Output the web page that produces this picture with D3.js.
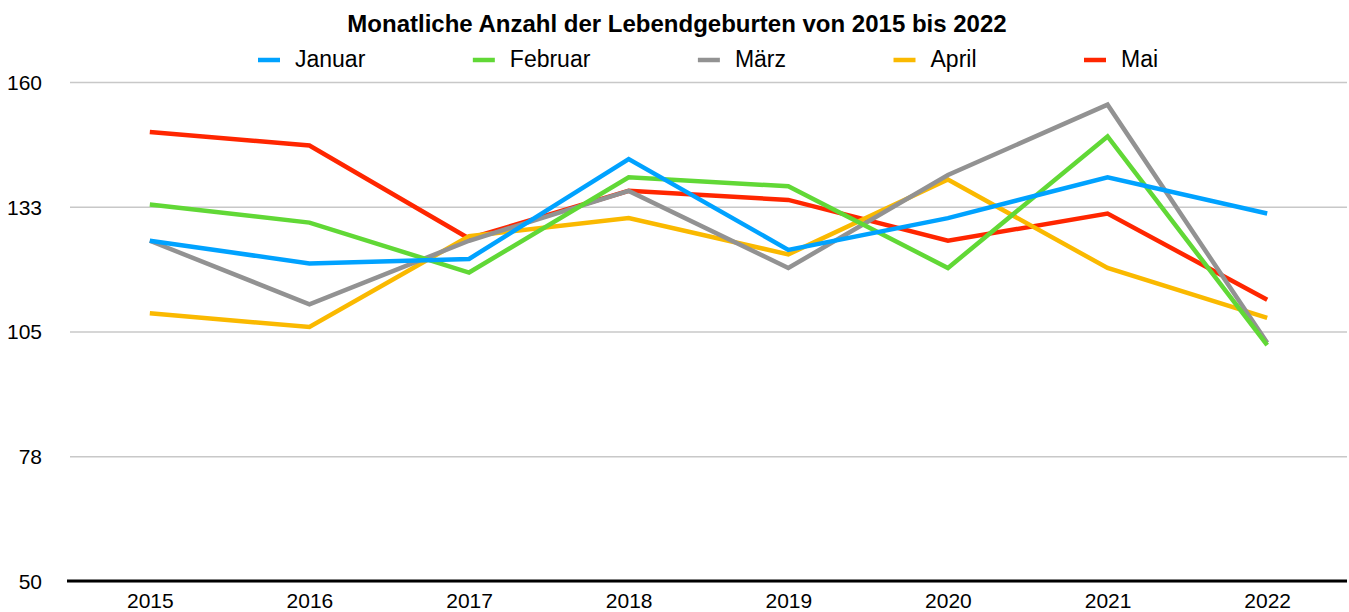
<!DOCTYPE html>
<html>
<head>
<meta charset="utf-8">
<script src="https://cdn.jsdelivr.net/npm/d3@7"></script>
<style>
  body { margin: 0; background: #fff; }
  text { font-family: "Liberation Sans", Arial, sans-serif; fill: #000; }
</style>
</head>
<body>
<div id="chart"></div>
<script>
// Data
const years = ["2015", "2016", "2017", "2018", "2019", "2020", "2021", "2022"];
const januar  = [125, 120, 121, 143, 123, 130, 139, 131];
const februar = [133, 129, 118, 139, 137, 119, 148, 102];
const maerz   = [125, 111, 125, 136, 119, 139.5, 155, 102.5];
const april   = [109, 106, 126, 130, 122, 138.5, 119, 108];
const mai     = [149, 146, 125.5, 136, 134, 125, 131, 112];
const yTicks = [50, 77.5, 105, 132.5, 160];

const series = [
  { name: "Januar", values: januar, color: "#00A2FF" },
  { name: "Februar", values: februar, color: "#61D836" },
  { name: "März", values: maerz, color: "#929292" },
  { name: "April", values: april, color: "#FAB900" },
  { name: "Mai", values: mai, color: "#FF2600" }
];

const width = 1349;
const height = 612;
const plotLeft = 70, plotRight = 1347, plotTop = 82, plotBottom = 581;

const svg = d3.select("#chart")
  .append("svg")
  .attr("width", width)
  .attr("height", height);

const x = d3.scalePoint().domain(years).range([plotLeft, plotRight]).padding(0.5);
const y = d3.scaleLinear().domain([50, 160]).range([plotBottom, plotTop]);

// Gridlines and y labels
const yAxis = d3.axisLeft(y)
  .tickValues(yTicks)
  .tickSize(-(plotRight - plotLeft))
  .tickPadding(28)
  .tickFormat(d => Math.round(d));

const gy = svg.append("g")
  .attr("transform", `translate(${plotLeft},0)`)
  .call(yAxis);
gy.select(".domain").remove();
gy.selectAll(".tick line").attr("stroke", "#c8c8c8").attr("stroke-width", 1.5);
gy.selectAll(".tick text").style("font-size", "21px").attr("dy", "0.35em");

// baseline
svg.append("line")
  .attr("x1", plotLeft - 3).attr("x2", plotRight)
  .attr("y1", y(50)).attr("y2", y(50))
  .attr("stroke", "#000").attr("stroke-width", 3);

// x labels
const gx = svg.append("g")
  .attr("transform", `translate(0,${plotBottom})`)
  .call(d3.axisBottom(x).tickSize(0).tickPadding(12));
gx.select(".domain").remove();
gx.selectAll(".tick text").style("font-size", "21px").attr("dy", "0.71em");

// Lines, Mai at the bottom, Januar on top
const line = d3.line()
  .x((d, i) => x(years[i]))
  .y(d => y(d));

svg.append("g")
  .selectAll("path")
  .data(series.slice().reverse())
  .enter()
  .append("path")
  .attr("d", d => line(d.values))
  .attr("fill", "none")
  .attr("stroke", d => d.color)
  .attr("stroke-width", 4.5)
  .attr("stroke-linejoin", "miter");

// Title
svg.append("text")
  .attr("x", 677)
  .attr("y", 32)
  .attr("text-anchor", "middle")
  .style("font-size", "24px")
  .style("font-weight", "bold")
  .text("Monatliche Anzahl der Lebendgeburten von 2015 bis 2022");

// Legend
const legend = svg.append("g");
let cursor = 258;
series.forEach(s => {
  legend.append("line")
    .attr("x1", cursor).attr("x2", cursor + 22)
    .attr("y1", 60).attr("y2", 60)
    .attr("stroke", s.color).attr("stroke-width", 4.5);
  const t = legend.append("text")
    .attr("x", cursor + 37)
    .attr("y", 67)
    .style("font-size", "23px")
    .text(s.name);
  cursor = cursor + 37 + t.node().getComputedTextLength() + 107.5;
});
</script>
</body>
</html>
